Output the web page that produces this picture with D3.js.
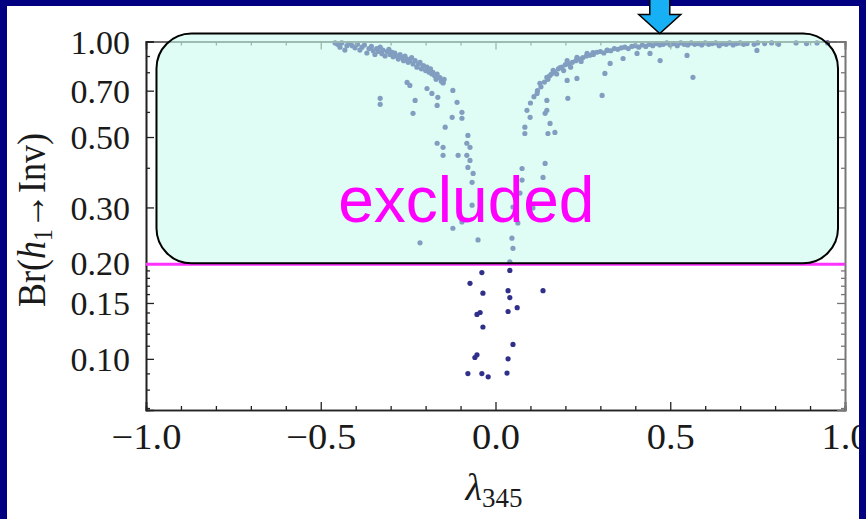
<!DOCTYPE html>
<html>
<head>
<meta charset="utf-8">
<script src="https://cdn.jsdelivr.net/npm/d3@7"></script>
<style>
html, body { margin: 0; padding: 0; background: #000080; }
svg { display: block; }
.tick text { font-family: "Liberation Serif", "Times New Roman", serif; fill: #1a1a1a; }
</style>
</head>
<body>
<svg id="chart"></svg>
<script>
// axis ticks
var lambdaTicks = [-1, -0.5, 0, 0.5, 1];
var lambdaTickLabels = ["\u22121.0", "\u22120.5", "0.0", "0.5", "1.0"];
var lambdaMinor = [-0.9, -0.8, -0.7, -0.6, -0.4, -0.3, -0.2, -0.1, 0.1, 0.2, 0.3, 0.4, 0.6, 0.7, 0.8, 0.9];
var brTicks = [0.1, 0.15, 0.2, 0.3, 0.5, 0.7, 1.0];
var brTickLabels = ["0.10", "0.15", "0.20", "0.30", "0.50", "0.70", "1.00"];
var brMinor = [0.07, 0.08, 0.09, 0.11, 0.12, 0.13, 0.14, 0.16, 0.17, 0.18, 0.19, 0.4, 0.6, 0.8, 0.9];

// limit line + excluded region
var brLimit = 0.2;
var excludedLam = [-0.97, 0.98];
var excludedBr = [0.2, 1.06];
var arrowLam = 0.47;

// scan points [lambda345, Br(h1 -> Inv)]
var leftBranch = [
  [-0.459,0.99],[-0.452,0.98],[-0.445,0.96],[-0.44,0.99],[-0.431,0.94],[-0.425,0.97],[-0.418,0.985],
  [-0.41,0.97],[-0.402,0.955],[-0.395,0.98],[-0.388,0.94],[-0.382,0.96],[-0.375,0.975],[-0.368,0.92],
  [-0.362,0.95],[-0.355,0.965],[-0.35,0.935],[-0.345,0.91],[-0.34,0.95],[-0.335,0.93],[-0.33,0.96],
  [-0.325,0.915],[-0.322,0.94],[-0.316,0.9],[-0.31,0.93],[-0.305,0.945],[-0.302,0.91],[-0.296,0.925],
  [-0.293,0.895],[-0.288,0.92],[-0.283,0.9],[-0.278,0.88],[-0.273,0.91],[-0.268,0.89],[-0.263,0.87],
  [-0.259,0.9],[-0.253,0.88],[-0.25,0.86],[-0.245,0.87],[-0.24,0.89],[-0.236,0.85],[-0.23,0.87],
  [-0.225,0.83],[-0.22,0.85],[-0.216,0.86],[-0.212,0.82],[-0.206,0.84],[-0.2,0.81],[-0.196,0.83],
  [-0.19,0.8],[-0.186,0.82],[-0.182,0.79],[-0.179,0.8],[-0.174,0.78],[-0.17,0.76],[-0.167,0.79],
  [-0.163,0.77],[-0.159,0.77],[-0.155,0.75],[-0.15,0.74],[-0.147,0.76],[-0.15,0.743],
  [-0.253,0.743],[-0.245,0.727],[-0.196,0.711],[-0.182,0.686],[-0.165,0.667],[-0.122,0.701],
  [-0.11,0.643],[-0.096,0.598],[-0.096,0.573],[-0.124,0.577],[-0.144,0.537],[-0.23,0.652],
  [-0.167,0.629],[-0.33,0.662],[-0.33,0.634],[-0.236,0.594],[-0.079,0.506],[-0.082,0.478],
  [-0.073,0.464],[-0.082,0.438],[-0.073,0.422],[-0.079,0.401],[-0.064,0.384],[-0.067,0.36],
  [-0.167,0.478],[-0.15,0.464],[-0.15,0.438],[-0.107,0.438]
];
var centralTail = [
  [-0.067,0.305],[-0.096,0.27],[-0.122,0.258],[-0.216,0.232],[-0.05,0.237],[0.05,0.301],[0.107,0.299],
  [0.064,0.268],[0.047,0.24],[0.05,0.223],[0.041,0.202],[0.041,0.19],[-0.039,0.187],[-0.073,0.173],
  [-0.036,0.161],[0.036,0.164],[0.041,0.156],[0.136,0.164],[0.036,0.141],[0.062,0.145],[-0.053,0.138],
  [-0.044,0.14],[-0.036,0.126],[0.05,0.111],[-0.053,0.103],[-0.059,0.101],[0.036,0.1],[-0.079,0.0899],
  [-0.039,0.0899],[-0.021,0.0878],[0.033,0.0902]
];
var rightBranch = [
  [0.09,0.607],[0.099,0.577],[0.084,0.537],[0.084,0.513],[0.119,0.686],[0.127,0.738],[0.147,0.771],
  [0.165,0.811],[0.185,0.828],[0.205,0.871],[0.233,0.891],[0.262,0.917],[0.279,0.923],[0.147,0.652],
  [0.147,0.607],[0.142,0.594],[0.156,0.552],[0.15,0.513],[0.17,0.517],[0.207,0.662],[0.205,0.754],
  [0.233,0.765],[0.142,0.413],[0.136,0.373],[0.076,0.398],[0.076,0.366],[0.07,0.333],
  [0.1,0.64],[0.11,0.67],[0.12,0.7],[0.13,0.72],[0.14,0.745],[0.15,0.76],[0.155,0.78],[0.16,0.79],
  [0.17,0.8],[0.175,0.79],[0.18,0.82],[0.19,0.83],[0.195,0.81],[0.2,0.845],[0.21,0.85],[0.215,0.83],
  [0.22,0.86],[0.23,0.87],[0.24,0.88],[0.245,0.865],[0.25,0.89],[0.26,0.9],[0.27,0.905],[0.28,0.91],
  [0.29,0.925],[0.3,0.93],[0.31,0.92],[0.32,0.94],[0.33,0.935],[0.34,0.95],[0.35,0.945],[0.36,0.955],
  [0.37,0.96],[0.38,0.95],[0.39,0.965],[0.4,0.97],[0.41,0.96],[0.42,0.975],[0.43,0.965],[0.44,0.98],
  [0.45,0.97],[0.46,0.985],[0.47,0.975],[0.48,0.98],[0.49,0.99],[0.5,0.975],[0.51,0.985],[0.52,0.97],
  [0.53,0.99],[0.54,0.98],[0.55,0.975],[0.56,0.99],[0.57,0.98],[0.58,0.985],[0.59,0.975],[0.6,0.99],
  [0.61,0.98],[0.62,0.985],[0.63,0.99],[0.64,0.97],[0.65,0.985],[0.66,0.98],[0.67,0.99],[0.68,0.975],
  [0.69,0.985],[0.7,0.99],[0.71,0.98],[0.72,0.985],[0.74,0.98],[0.75,0.99],[0.77,0.985],[0.79,0.99],
  [0.81,0.98],[0.86,0.99],[0.89,0.985],[0.92,0.99],[0.95,0.99],
  [0.319,0.937],[0.365,0.884],[0.328,0.853],[0.313,0.793],[0.305,0.676],[0.471,0.871],[0.548,0.904],
  [0.565,0.771],[0.748,0.937],[0.442,0.917],[0.405,0.917]
];

var width = 866, height = 519;
var svg = d3.select("#chart").attr("width", width).attr("height", height);

// white panel inside the navy frame
svg.append("rect").attr("x", 0).attr("y", 0).attr("width", width).attr("height", height).style("fill", "#000080");
svg.append("rect").attr("x", 7).attr("y", 6).attr("width", 852).attr("height", height - 6).style("fill", "#fff");

var x = d3.scaleLinear().domain([-1, 1]).range([146, 845]);
var y = d3.scaleLog().domain([0.069, 1]).range([410, 41.5]);

var serif = "'Liberation Serif', 'Times New Roman', serif";

// points
var allPoints = leftBranch.concat(centralTail, rightBranch);
svg.append("g").selectAll("circle")
  .data(allPoints)
  .enter().append("circle")
  .attr("cx", function(d) { return x(d[0]); })
  .attr("cy", function(d) { return y(d[1]); })
  .attr("r", 2.6)
  .style("fill", "#30308a");

// frame + ticks (inward, Mathematica style)
function noLabels(a) { return a.tickFormat(function() { return ""; }); }

var gB = svg.append("g").attr("transform", "translate(0,410)");
gB.call(d3.axisBottom(x).tickValues(lambdaTicks).tickSize(-8).tickPadding(14)
  .tickFormat(function(d, i) { return lambdaTickLabels[i]; }));
gB.append("g").call(noLabels(d3.axisBottom(x).tickValues(lambdaMinor).tickSize(-4)));

var gT = svg.append("g").attr("transform", "translate(0,41.5)");
gT.call(noLabels(d3.axisTop(x).tickValues(lambdaTicks).tickSize(-8)));
gT.append("g").call(noLabels(d3.axisTop(x).tickValues(lambdaMinor).tickSize(-4)));

var gL = svg.append("g").attr("transform", "translate(146,0)");
gL.call(d3.axisLeft(y).tickValues(brTicks).tickSize(-8).tickPadding(16)
  .tickFormat(function(d, i) { return brTickLabels[i]; }));
gL.append("g").call(noLabels(d3.axisLeft(y).tickValues(brMinor).tickSize(-4)));

var gR = svg.append("g").attr("transform", "translate(845,0)");
gR.call(noLabels(d3.axisRight(y).tickValues(brTicks).tickSize(-8)));
gR.append("g").call(noLabels(d3.axisRight(y).tickValues(brMinor).tickSize(-4)));

svg.selectAll(".domain").style("stroke", "#222").style("stroke-width", 1.6);
svg.selectAll(".tick line").style("stroke", "#222").style("stroke-width", 1.3);
gT.selectAll(".domain, .tick line").style("stroke", "#666");
gR.selectAll(".domain, .tick line").style("stroke", "#777");

gB.selectAll(".tick text").style("font-size", "35px").attr("font-family", serif)
  .attr("transform", "scale(1.1,1)")
  .attr("x", 0);
gL.selectAll(".tick text").style("font-size", "34px").attr("font-family", serif).attr("dy", "0.34em");

// limit line
svg.append("line")
  .attr("x1", 146).attr("x2", 845)
  .attr("y1", y(brLimit) + 1).attr("y2", y(brLimit) + 1)
  .style("stroke", "#ff33ff").style("stroke-width", 3);

// excluded region
svg.append("rect")
  .attr("x", x(excludedLam[0]))
  .attr("y", y(excludedBr[1]))
  .attr("width", x(excludedLam[1]) - x(excludedLam[0]))
  .attr("height", y(excludedBr[0]) - y(excludedBr[1]))
  .attr("rx", 35).attr("ry", 35)
  .style("fill", "#c4faec").style("fill-opacity", 0.55)
  .style("stroke", "#000").style("stroke-width", 2);

svg.append("text")
  .attr("x", x(-0.45)).attr("y", y(0.27))
  .style("font-family", "'Liberation Sans', Arial, sans-serif")
  .style("font-size", "64px")
  .style("fill", "#ff00ff")
  .text("excluded");

// axis titles
var xt = svg.append("text")
  .attr("transform", "translate(494,500)")
  .attr("text-anchor", "middle")
  .style("font-family", serif).style("font-size", "38px").style("fill", "#1a1a1a");
xt.append("tspan").style("font-style", "italic").text("\u03bb");
xt.append("tspan").attr("dy", 7).style("font-size", "27px").text("345");

var yt = svg.append("text")
  .attr("transform", "translate(45,220) rotate(-90) scale(1,1.12)")
  .attr("text-anchor", "middle")
  .style("font-family", serif).style("font-size", "36px").style("fill", "#1a1a1a");
yt.append("tspan").text("Br(");
yt.append("tspan").style("font-style", "italic").text("h");
yt.append("tspan").attr("dy", 6).style("font-size", "24px").text("1");
yt.append("tspan").attr("dy", -6).text("\u2192Inv)");

// navy border drawn over clipped labels
svg.append("rect").attr("x", 859).attr("y", 0).attr("width", 7).attr("height", height).style("fill", "#000080");
svg.append("rect").attr("x", 0).attr("y", 0).attr("width", 7).attr("height", height).style("fill", "#000080");
svg.append("rect").attr("x", 0).attr("y", 0).attr("width", width).attr("height", 6).style("fill", "#000080");

// blue arrow pointing at the band
var ax = x(arrowLam), tipY = y(excludedBr[1]);
svg.append("path")
  .attr("d", d3.line()([
    [ax - 10, -2], [ax + 10, -2], [ax + 10, tipY - 19], [ax + 21, tipY - 19],
    [ax, tipY], [ax - 21, tipY - 19], [ax - 10, tipY - 19]
  ]) + "Z")
  .style("fill", "#18b0f4").style("stroke", "#000").style("stroke-width", 1.5);
</script>
</body>
</html>
